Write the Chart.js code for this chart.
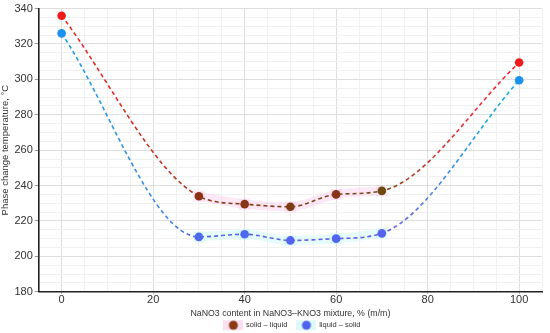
<!DOCTYPE html>
<html>
<head>
<meta charset="utf-8">
<script src="https://cdn.jsdelivr.net/npm/chart.js@4.4.1/dist/chart.umd.min.js"></script>
<style>
  html, body { margin: 0; padding: 0; background: #fff; }
  #wrap { width: 550px; height: 333px; }
</style>
</head>
<body>
<div id="wrap"><canvas id="phaseChart" width="550" height="333"></canvas></div>
<script>
// NaNO3 share in the NaNO3-KNO3 mixture, % (m/m)
const nano3Content = [0, 30, 40, 50, 60, 70, 100];
// melting (solid -> liquid) and freezing (liquid -> solid) temperatures, °C
const solidLiquid = [336, 234, 229.5, 228, 235, 237, 309.5];
const liquidSolid = [326, 211, 212.5, 209, 210, 213, 299.5];
const seriesNames = ['solid – liquid', 'liquid – solid'];
const xTickLabels = [0, 20, 40, 60, 80, 100];
const yTickLabels = [180, 200, 220, 240, 260, 280, 300, 320, 340];

// point colours: bright at the pure salts, darker for the mixtures
const redPoints = ['#f01a1a', '#8e3216', '#873514', '#7a3e12', '#883414', '#6c4a10', '#f01a1a'];
const bluePoints = ['#1b92ee', '#4f68ee', '#4f68ee', '#5462f0', '#5064ee', '#5563ef', '#1b92ee'];

function toPoints(vals) {
  return nano3Content.map((x, i) => ({ x: x, y: vals[i] }));
}
// the mixture points only (for the shaded band behind them)
function mixPoints(vals) {
  return toPoints(vals).filter(p => p.x > 0 && p.x < 100);
}

// horizontal colour gradient along the x axis
function lineGradient(stops) {
  return function (context) {
    const chart = context.chart;
    const area = chart.chartArea;
    if (!area) return stops[0][1];
    const xs = chart.scales.x;
    const x0 = xs.getPixelForValue(0);
    const x1 = xs.getPixelForValue(100);
    const g = chart.ctx.createLinearGradient(x0, 0, x1, 0);
    stops.forEach(s => g.addColorStop(s[0] / 100, s[1]));
    return g;
  };
}

// legend marker: dot on a pale square
function legendMarker(bg, dot) {
  const c = document.createElement('canvas');
  c.width = 20; c.height = 12;
  const g = c.getContext('2d');
  g.fillStyle = bg;
  g.fillRect(0, 1, 20, 10);
  g.fillStyle = dot;
  g.beginPath();
  g.arc(10, 6, 4.5, 0, Math.PI * 2);
  g.fill();
  return c;
}

const markers = [legendMarker('#fbe0f2', '#8a3a14'), legendMarker('#dff9fb', '#4f62f0')];

const majorX = v => xTickLabels.includes(v);
const majorY = v => yTickLabels.includes(v);

// put the legend under the middle of the plot, a bit higher
const legendShift = {
  id: 'legendShift',
  beforeDraw(chart) {
    const lg = chart.legend;
    const area = chart.chartArea;
    if (!lg || !area || lg._shifted) return;
    const dx = (area.left + area.right) / 2 - (lg.left + lg.right) / 2 + 2;
    lg.left += dx; lg.right += dx;
    lg.top -= 7; lg.bottom -= 7;
    lg._shifted = true;
  }
};

document.addEventListener('DOMContentLoaded', function () {
  const ctx = document.getElementById('phaseChart').getContext('2d');

  new Chart(ctx, {
    type: 'line',
    data: {
      datasets: [
        {
          label: 'band1',
          data: mixPoints(solidLiquid),
          borderColor: 'rgba(250, 205, 235, 0.45)',
          borderWidth: 9,
          backgroundColor: 'rgba(250, 205, 235, 0.45)',
          pointStyle: 'rect',
          pointRadius: 8,
          pointBorderWidth: 0,
          cubicInterpolationMode: 'monotone',
          fill: false,
          order: 5
        },
        {
          label: 'band2',
          data: mixPoints(liquidSolid),
          borderColor: 'rgba(205, 248, 250, 0.5)',
          borderWidth: 9,
          backgroundColor: 'rgba(205, 248, 250, 0.5)',
          pointStyle: 'rect',
          pointRadius: 8,
          pointBorderWidth: 0,
          cubicInterpolationMode: 'monotone',
          fill: false,
          order: 5
        },
        {
          label: seriesNames[0],
          data: toPoints(solidLiquid),
          borderColor: lineGradient([[0, '#ee2a2a'], [22, '#c03424'], [32, '#8e3c1c'], [70, '#7c4a1c'], [80, '#c83a2e'], [90, '#e8303a'], [100, '#f02a30']]),
          borderWidth: 1.6,
          borderDash: [4, 3],
          backgroundColor: redPoints,
          pointBackgroundColor: redPoints,
          pointBorderWidth: 0,
          pointRadius: 4.3,
          cubicInterpolationMode: 'monotone',
          fill: false,
          order: 1
        },
        {
          label: seriesNames[1],
          data: toPoints(liquidSolid),
          borderColor: lineGradient([[0, '#1aa2e2'], [20, '#3a8ae2'], [32, '#5a64e2'], [72, '#6460e0'], [82, '#4a84e0'], [92, '#20a6e0'], [100, '#18aae2']]),
          borderWidth: 1.6,
          borderDash: [4, 3],
          backgroundColor: bluePoints,
          pointBackgroundColor: bluePoints,
          pointBorderWidth: 0,
          pointRadius: 4.3,
          cubicInterpolationMode: 'monotone',
          fill: false,
          order: 2
        }
      ]
    },
    options: {
      responsive: false,
      animation: false,
      layout: { padding: { top: 4, right: 5, left: 0, bottom: -13 } },
      scales: {
        x: {
          type: 'linear',
          min: -5,
          max: 105,
          border: { color: '#222', width: 1.6 },
          grid: {
            color: c => majorX(c.tick.value) ? '#dedede' : '#f1f1f1',
            tickColor: c => majorX(c.tick.value) ? '#999' : 'rgba(0,0,0,0)',
            tickLength: 2,
            lineWidth: 1
          },
          ticks: {
            stepSize: 5,
            autoSkip: false,
            maxRotation: 0,
            padding: 0,
            color: '#333',
            font: { family: 'Liberation Sans', size: 11 },
            callback: v => majorX(v) ? String(v) : ''
          },
          title: {
            display: true,
            text: 'NaNO3 content in NaNO3–KNO3 mixture, % (m/m)',
            color: '#333',
            font: { family: 'Liberation Sans', size: 8.8 },
            padding: { top: 1, bottom: 0 }
          }
        },
        y: {
          min: 180,
          max: 340,
          border: { color: '#222', width: 1.6 },
          grid: {
            color: c => majorY(c.tick.value) ? '#dedede' : '#f1f1f1',
            tickColor: c => majorY(c.tick.value) ? '#999' : 'rgba(0,0,0,0)',
            tickLength: 4,
            lineWidth: 1
          },
          ticks: {
            stepSize: 5,
            autoSkip: false,
            padding: 2,
            color: '#333',
            font: { family: 'Liberation Sans', size: 11 },
            callback: v => majorY(v) ? String(v) : ''
          },
          title: {
            display: true,
            text: 'Phase change temperature, °C',
            color: '#333',
            font: { family: 'Liberation Sans', size: 9.5 },
            padding: { top: 0, bottom: 1 }
          }
        }
      },
      plugins: {
        legend: {
          position: 'bottom',
          labels: {
            usePointStyle: true,
            pointStyleWidth: 18,
            boxWidth: 18,
            boxHeight: 8,
            padding: 10,
            color: '#333',
            font: { family: 'Liberation Sans', size: 7.5 },
            filter: item => seriesNames.includes(item.text),
            generateLabels: function (chart) {
              return chart.data.datasets.map((ds, i) => ({
                text: ds.label,
                pointStyle: seriesNames.indexOf(ds.label) >= 0 ? markers[seriesNames.indexOf(ds.label)] : 'circle',
                fillStyle: 'transparent',
                strokeStyle: 'transparent',
                lineWidth: 0,
                fontColor: '#333',
                hidden: false,
                datasetIndex: i
              }));
            }
          }
        },
        tooltip: { enabled: false }
      }
    },
    plugins: [legendShift]
  });
});
</script>
</body>
</html>
